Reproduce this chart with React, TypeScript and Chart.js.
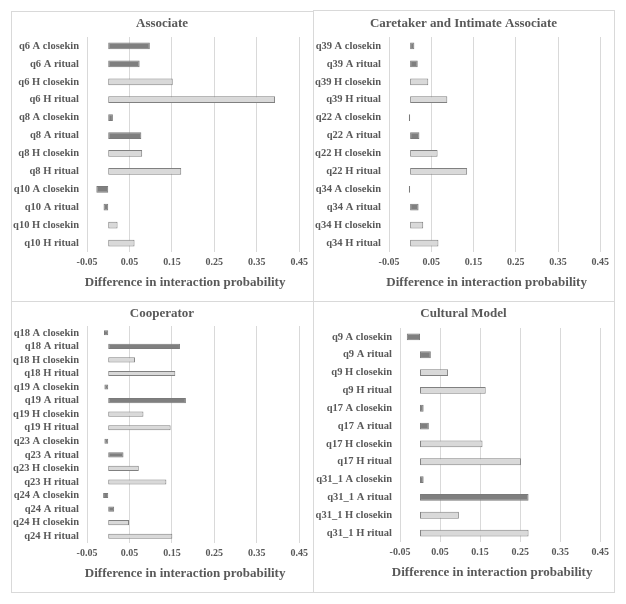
import React, { useEffect, useRef } from "react";
import { Chart, registerables } from "chart.js";

Chart.register(...registerables);

const associateLabels = ["q6 A closekin", "q6 A ritual", "q6 H closekin", "q6 H ritual", "q8 A closekin", "q8 A ritual", "q8 H closekin", "q8 H ritual", "q10 A closekin", "q10 A ritual", "q10 H closekin", "q10 H ritual"];
const associateValues = [0.098, 0.074, 0.152, 0.393, 0.011, 0.078, 0.08, 0.172, -0.028, -0.011, 0.022, 0.062];

const caretakerLabels = ["q39 A closekin", "q39 A ritual", "q39 H closekin", "q39 H ritual", "q22 A closekin", "q22 A ritual", "q22 H closekin", "q22 H ritual", "q34 A closekin", "q34 A ritual", "q34 H closekin", "q34 H ritual"];
const caretakerValues = [0.01, 0.018, 0.043, 0.088, -0.003, 0.022, 0.065, 0.135, -0.003, 0.02, 0.031, 0.067];

const cooperatorLabels = ["q18 A closekin", "q18 A ritual", "q18 H closekin", "q18 H ritual", "q19 A closekin", "q19 A ritual", "q19 H closekin", "q19 H ritual", "q23 A closekin", "q23 A ritual", "q23 H closekin", "q23 H ritual", "q24 A closekin", "q24 A ritual", "q24 H closekin", "q24 H ritual"];
const cooperatorValues = [-0.01, 0.169, 0.063, 0.158, -0.009, 0.183, 0.083, 0.147, -0.009, 0.036, 0.072, 0.137, -0.012, 0.014, 0.049, 0.151];

const culturalLabels = ["q9 A closekin", "q9 A ritual", "q9 H closekin", "q9 H ritual", "q17 A closekin", "q17 A ritual", "q17 H closekin", "q17 H ritual", "q31_1 A closekin", "q31_1 A ritual", "q31_1 H closekin", "q31_1 H ritual"];
const culturalValues = [-0.033, 0.027, 0.07, 0.164, 0.009, 0.022, 0.156, 0.252, 0.009, 0.271, 0.097, 0.271];

const xTickMin = -0.05;
const xTickMax = 0.45;
const xTickStep = 0.1;
const axisTitle = "Difference in interaction probability";

const TEXT = "#595959";
const GRID = "#d9d9d9";
const DARK_FILL = "#7f7f7f";
const DARK_BORDER = "#7a7a7a";
const LIGHT_FILL = "#d9d9d9";
const LIGHT_BORDER = "#808080";
const FONT = "'Liberation Serif', 'Times New Roman', serif";

const titlesPlugin = {
  id: "panelTitles",
  afterDraw(chart: any, _args: any, opts: any) {
    const { ctx, chartArea, width } = chart;
    ctx.save();
    ctx.font = `bold 13px ${FONT}`;
    ctx.fillStyle = TEXT;
    ctx.textAlign = "center";
    ctx.textBaseline = "middle";
    ctx.fillText(opts.title, width / 2, opts.titleY);
    ctx.fillText(opts.axisTitle, (chartArea.left + chartArea.right) / 2 + opts.dx, chartArea.bottom + opts.dy);
    ctx.restore();
  },
};

type PanelProps = {
  title: string;
  labels: string[];
  values: number[];
  left: number;
  top: number;
  width: number;
  height: number;
  yWidth: number;
  padRight: number;
  chartTop: number;
  bottomSpace: number;
  barPct: number;
};

function Panel(p: PanelProps) {
  const ref = useRef<HTMLCanvasElement | null>(null);
  useEffect(() => {
    if (!ref.current) return;
    const isA = (i: number) => p.labels[i].includes(" A ");
    const chart = new Chart(ref.current, {
      type: "bar",
      data: {
        labels: p.labels,
        datasets: [
          {
            data: p.values,
            backgroundColor: (ctx: any) => (isA(ctx.dataIndex) ? DARK_FILL : LIGHT_FILL),
            borderColor: (ctx: any) => (isA(ctx.dataIndex) ? DARK_BORDER : LIGHT_BORDER),
            borderWidth: 1,
            borderSkipped: false,
            categoryPercentage: 1,
            barPercentage: p.barPct,
          },
        ],
      },
      plugins: [titlesPlugin],
      options: {
        indexAxis: "y",
        animation: false,
        responsive: false,
        devicePixelRatio: 1,
        layout: { padding: { left: 0, right: p.padRight, top: p.chartTop, bottom: 0 } },
        plugins: {
          legend: { display: false },
          tooltip: { enabled: false },
          title: { display: false },
          panelTitles: { title: p.title, titleY: 12, axisTitle, dx: -8, dy: 31 },
        },
        scales: {
          x: {
            type: "linear",
            min: xTickMin,
            max: xTickMax,
            ticks: {
              stepSize: xTickStep,
              padding: 4,
              color: TEXT,
              font: { family: FONT, size: 10, weight: "bold" },
              callback: (v: any) => Number(v).toFixed(2),
            },
            grid: { color: GRID, drawTicks: false },
            border: { display: false },
            title: { display: false },
            afterFit: (scale: any) => {
              scale.height = p.bottomSpace;
            },
          },
          y: {
            ticks: {
              padding: 8,
              autoSkip: false,
              color: TEXT,
              font: { family: FONT, size: 10.5, weight: "bold" },
            },
            grid: { display: false, drawTicks: false },
            border: { display: false },
            afterFit: (scale: any) => {
              scale.width = p.yWidth;
            },
          },
        },
      },
    } as any);
    return () => chart.destroy();
  }, []);
  return (
    <canvas
      ref={ref}
      width={p.width}
      height={p.height}
      style={{ position: "absolute", left: p.left, top: p.top, width: p.width, height: p.height }}
    />
  );
}

const boxStyle = (left: number, top: number, w: number, h: number): React.CSSProperties => ({
  position: "absolute",
  left,
  top,
  width: w,
  height: h,
  boxSizing: "border-box",
  border: `1px solid ${GRID}`,
  background: "#ffffff",
});

export default function App() {
  return (
    <div style={{ position: "absolute", left: 0, top: 0, width: 626, height: 604, background: "#ffffff" }}>
      <div style={boxStyle(11, 11, 303, 291)} />
      <div style={boxStyle(313, 10, 302, 292)} />
      <div style={boxStyle(11, 301, 303, 292)} />
      <div style={boxStyle(313, 301, 302, 292)} />
      <Panel title="Associate" labels={associateLabels} values={associateValues}
        left={12} top={12} width={300} height={288} yWidth={75} padRight={11} chartTop={25} bottomSpace={48} barPct={0.38} />
      <Panel title="Caretaker and Intimate Associate" labels={caretakerLabels} values={caretakerValues}
        left={314} top={12} width={299} height={288} yWidth={75} padRight={12} chartTop={25} bottomSpace={48} barPct={0.38} />
      <Panel title="Cooperator" labels={cooperatorLabels} values={cooperatorValues}
        left={12} top={302} width={300} height={289} yWidth={75} padRight={11} chartTop={24} bottomSpace={48} barPct={0.38} />
      <Panel title="Cultural Model" labels={culturalLabels} values={culturalValues}
        left={314} top={302} width={299} height={289} yWidth={86} padRight={11} chartTop={26} bottomSpace={49} barPct={0.38} />
    </div>
  );
}
